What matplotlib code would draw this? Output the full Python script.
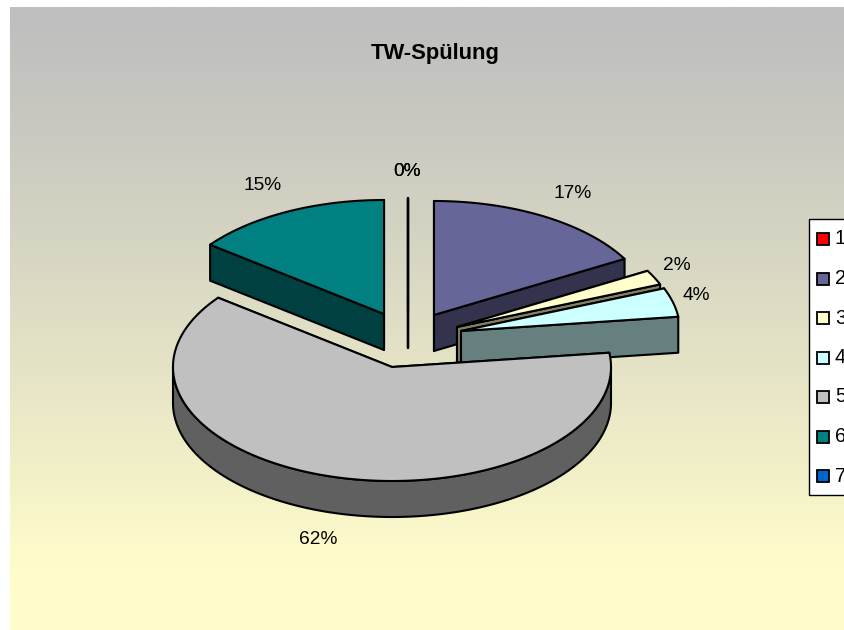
import matplotlib
matplotlib.use("Agg")
import matplotlib.pyplot as plt
import numpy as np
from matplotlib.patches import Polygon, Rectangle

plt.rcParams['font.family'] = ['Liberation Sans', 'DejaVu Sans']

# data
categories = ["1", "2", "3", "4", "5", "6", "7"]
values = [0.0, 16.8, 2.1, 4.1, 62.4, 14.6, 0.0]
colors = ["#FF0000", "#666699", "#FFFFCC", "#CCFFFF", "#C0C0C0", "#008080", "#0066CC"]
title = "TW-Spülung"

# layout, all in image pixels
rx = 219
ry = 114
depth = 36
apex = [(408, 312), (434, 315), (457, 327), (461, 331), (392, 367), (384, 314), (408, 312)]
label_pos = [(407, 172), (573, 194), (677, 266), (696, 296), (318, 540), (263, 186), (407, 172)]
paint_order = [0, 6, 5, 1, 2, 3, 4]
line_w = 1.5


def rim(center, a0, a1):
    # points on the top ellipse, angle clockwise from 12 o'clock
    t = np.radians(np.linspace(a0, a1, max(int(abs(a1 - a0)) * 2, 2)))
    return np.column_stack([center[0] + rx * np.sin(t), center[1] - ry * np.cos(t)])


def wall(points):
    lowered = points[::-1] + [0, depth]
    return np.vstack([points, lowered])


def shade(color):
    return tuple(c * 0.5 for c in matplotlib.colors.to_rgb(color))


fig = plt.figure(figsize=(8.45, 6.3), dpi=100)
ax = fig.add_axes([0, 0, 1, 1])
ax.set_xlim(0, 845)
ax.set_ylim(630, 0)
ax.axis("off")

# background gradient, gray at the top to pale yellow at the bottom
top_col = np.array(matplotlib.colors.to_rgb("#BEBEBE"))
bot_col = np.array(matplotlib.colors.to_rgb("#FFFCCB"))
rows = np.linspace(0, 1, 300)
t_grad = np.clip(rows / 0.9, 0, 1) ** 1.15
grad = (top_col + (bot_col - top_col) * t_grad[:, None])[:, None, :]
ax.imshow(grad, extent=(10, 846, 630, 7), aspect="auto", zorder=0, interpolation="bilinear")
ax.set_xlim(0, 845)
ax.set_ylim(630, 0)

# slices
ends = np.cumsum(values) * 3.6
starts = ends - np.array(values) * 3.6
z = 2
for i in paint_order:
    c = np.array(apex[i], dtype=float)
    a0, a1 = starts[i], ends[i]
    side = shade(colors[i])
    style = dict(edgecolor="black", linewidth=line_w, joinstyle="round")
    # walls first, the top goes over them
    for a in (a0, a1):
        edge = np.vstack([c, rim(c, a, a)[:1]])
        ax.add_patch(Polygon(wall(edge), facecolor=side, zorder=z, **style))
    lo = max(a0, 90)
    hi = min(a1, 270)
    if hi > lo:
        ax.add_patch(Polygon(wall(rim(c, lo, hi)), facecolor=side, zorder=z, **style))
    pts = np.vstack([c, rim(c, a0, a1)]) if a1 > a0 else np.vstack([c, rim(c, a0, a0)[:1]])
    ax.add_patch(Polygon(pts, facecolor=colors[i], zorder=z, **style))
    z += 1

# percent labels, the two 0% ones land on the same spot
for v, (x, y) in zip(values, label_pos):
    ax.text(x, y, f"{v:.0f}%", ha="center", va="center", fontsize=13.8, color="black", zorder=20)

ax.text(435, 54, title, ha="center", va="center", fontsize=15.8, fontweight="bold", zorder=20)

# legend box runs off the right edge like in the original
ax.add_patch(Rectangle((809, 219), 60, 276, facecolor="white", edgecolor="black", linewidth=1.0, zorder=21))
for k, (name, col) in enumerate(zip(categories, colors)):
    y = 239 + k * 39.5
    ax.add_patch(Rectangle((817, y - 6), 12, 12, facecolor=col, edgecolor="black", linewidth=1.3, zorder=22))
    ax.text(835, y, name, ha="left", va="center", fontsize=14.5, color="black", zorder=22)

fig.savefig("out.png", dpi=100)
